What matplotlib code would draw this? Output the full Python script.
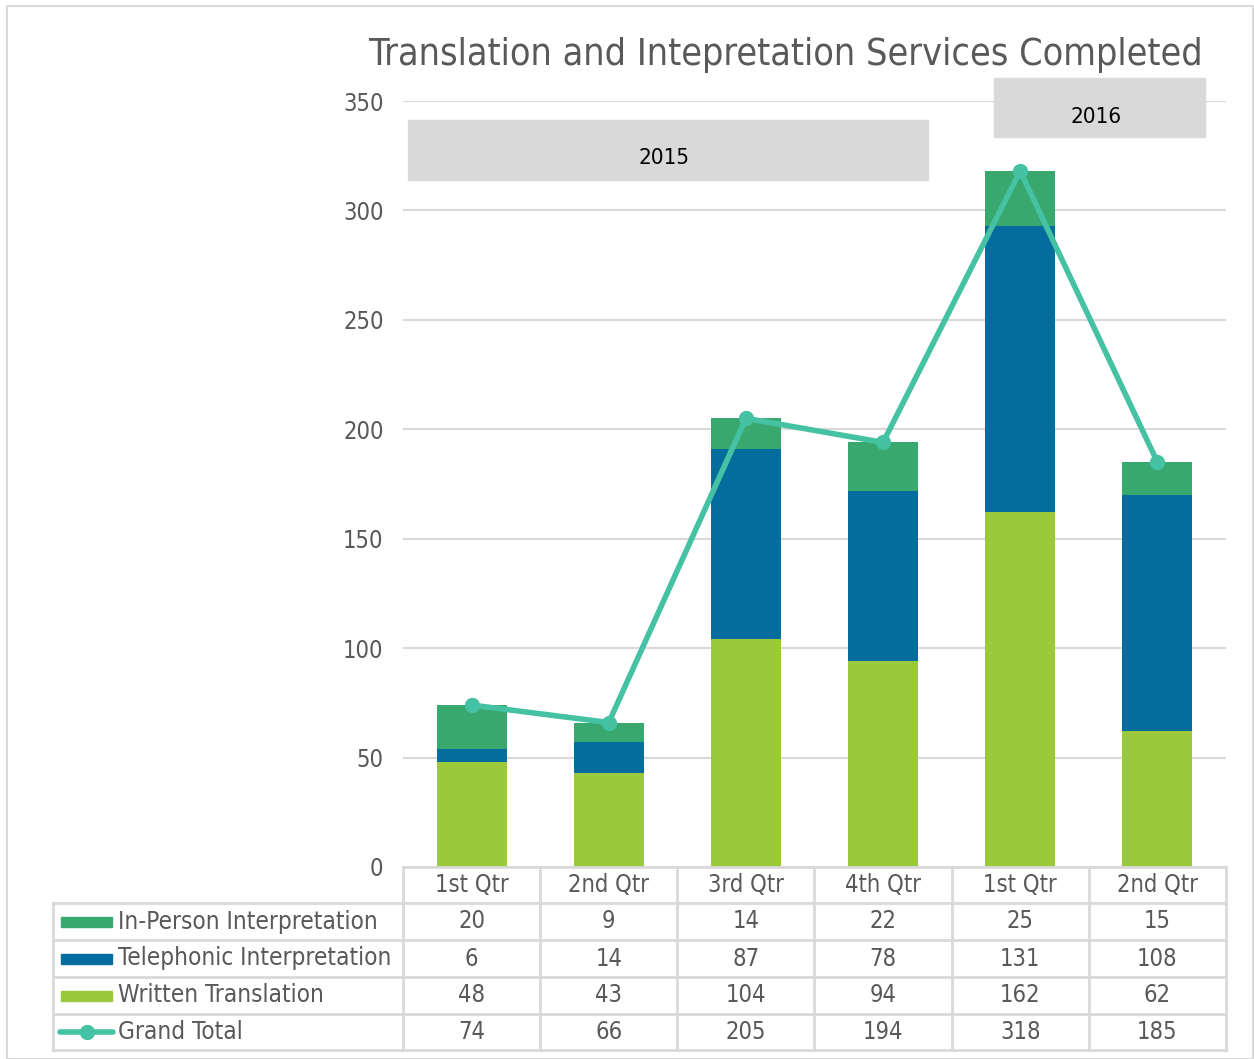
import matplotlib
matplotlib.use('Agg')
import matplotlib.pyplot as plt
from matplotlib.patches import Rectangle
from matplotlib.lines import Line2D
from matplotlib.transforms import blended_transform_factory
import numpy as np

# Data
quarters = ['1st Qtr', '2nd Qtr', '3rd Qtr', '4th Qtr', '1st Qtr', '2nd Qtr']
in_person = [20, 9, 14, 22, 25, 15]
telephonic = [6, 14, 87, 78, 131, 108]
written = [48, 43, 104, 94, 162, 62]
grand_total = [74, 66, 205, 194, 318, 185]
series_names = ['In-Person Interpretation', 'Telephonic Interpretation',
                'Written Translation', 'Grand Total']
years = ['2015', '2016']

c_person = '#38A86E'
c_tel = '#056C9E'
c_written = '#9ACA3C'
c_total = '#45C1A3'
c_text = '#595959'
c_grid = '#D9D9D9'

plt.rcParams['font.family'] = ['DejaVu Sans']
plt.rcParams['font.stretch'] = 'condensed'

W, H = 1254, 1059
fig = plt.figure(figsize=(W / 100, H / 100), dpi=100)
ax = fig.add_axes([403 / W, 1 - 867 / H, 823 / W, 766 / H])

x = np.arange(len(quarters))
bw = 0.51
ax.bar(x, written, bw, color=c_written, zorder=2)
ax.bar(x, telephonic, bw, bottom=written, color=c_tel, zorder=2)
bottom2 = np.array(written) + np.array(telephonic)
ax.bar(x, in_person, bw, bottom=bottom2, color=c_person, zorder=2)
ax.plot(x, grand_total, color=c_total, lw=4, marker='o', ms=10, zorder=3)

ax.set_xlim(-0.5, len(quarters) - 0.5)
ax.set_ylim(0, 350)
ax.set_yticks(range(0, 351, 50))
ax.yaxis.grid(True, color=c_grid, lw=1.5, zorder=0)
ax.set_axisbelow(True)
ax.tick_params(axis='y', length=0, pad=14, labelsize=17, labelcolor=c_text)
ax.set_xticks([])
for s in ax.spines.values():
    s.set_visible(False)

# year boxes
ax.add_patch(Rectangle((-0.46, 314), 3.79, 27.5, color=c_grid, clip_on=False, zorder=4))
ax.text(1.40, 324, years[0], ha='center', va='center', fontsize=16, color='black', zorder=5)
ax.add_patch(Rectangle((3.81, 333.5), 1.54, 27, color=c_grid, clip_on=False, zorder=4))
ax.text(4.55, 342.5, years[1], ha='center', va='center', fontsize=16, color='black', zorder=5)

fig.text(786 / W, 1 - 55 / H, 'Translation and Intepretation Services Completed',
         ha='center', va='center', fontsize=27, color=c_text)

# data table
tr = blended_transform_factory(ax.transData, fig.transFigure)
def fy(p):
    return 1 - p / H

rows_y = [867, 903, 940, 977, 1014, 1050]
left = -0.5 - 350 / 137.17
lkw = dict(color=c_grid, lw=2, transform=tr, clip_on=False)
fig.add_artist(Line2D([-0.5, 5.5], [fy(867), fy(867)], **lkw))
for yy in rows_y[1:]:
    fig.add_artist(Line2D([left, 5.5], [fy(yy), fy(yy)], **lkw))
for i in range(len(quarters) + 1):
    fig.add_artist(Line2D([i - 0.5, i - 0.5], [fy(867), fy(1050)], **lkw))
fig.add_artist(Line2D([left, left], [fy(903), fy(1050)], **lkw))

for i, q in enumerate(quarters):
    ax.text(i, fy(885), q, transform=tr, ha='center', va='center', fontsize=17, color=c_text)

table_rows = [in_person, telephonic, written, grand_total]
colors = [c_person, c_tel, c_written, c_total]
for r, (vals, name, col) in enumerate(zip(table_rows, series_names, colors)):
    yc = (rows_y[r + 1] + rows_y[r + 2]) / 2
    for i, v in enumerate(vals):
        ax.text(i, fy(yc), str(v), transform=tr, ha='center', va='center', fontsize=17, color=c_text)
    fig.text(118 / W, fy(yc), name, ha='left', va='center', fontsize=17.5, color=c_text)
    if r < 3:
        fig.add_artist(Rectangle((61 / W, fy(yc + 5)), 51 / W, 10 / H, color=col, transform=fig.transFigure))
    else:
        fig.add_artist(Line2D([60 / W, 113 / W], [fy(yc), fy(yc)], color=col, lw=4,
                              solid_capstyle='round', transform=fig.transFigure))
        fig.add_artist(Line2D([87 / W], [fy(yc)], color=col, marker='o', ms=10,
                              transform=fig.transFigure))

# outer frame
fig.add_artist(Rectangle((7 / W, 0), 1 - 8 / W, 1 - 6 / H, fill=False, ec=c_grid, lw=1.5,
                         transform=fig.transFigure))

fig.savefig('out.png', dpi=100)
